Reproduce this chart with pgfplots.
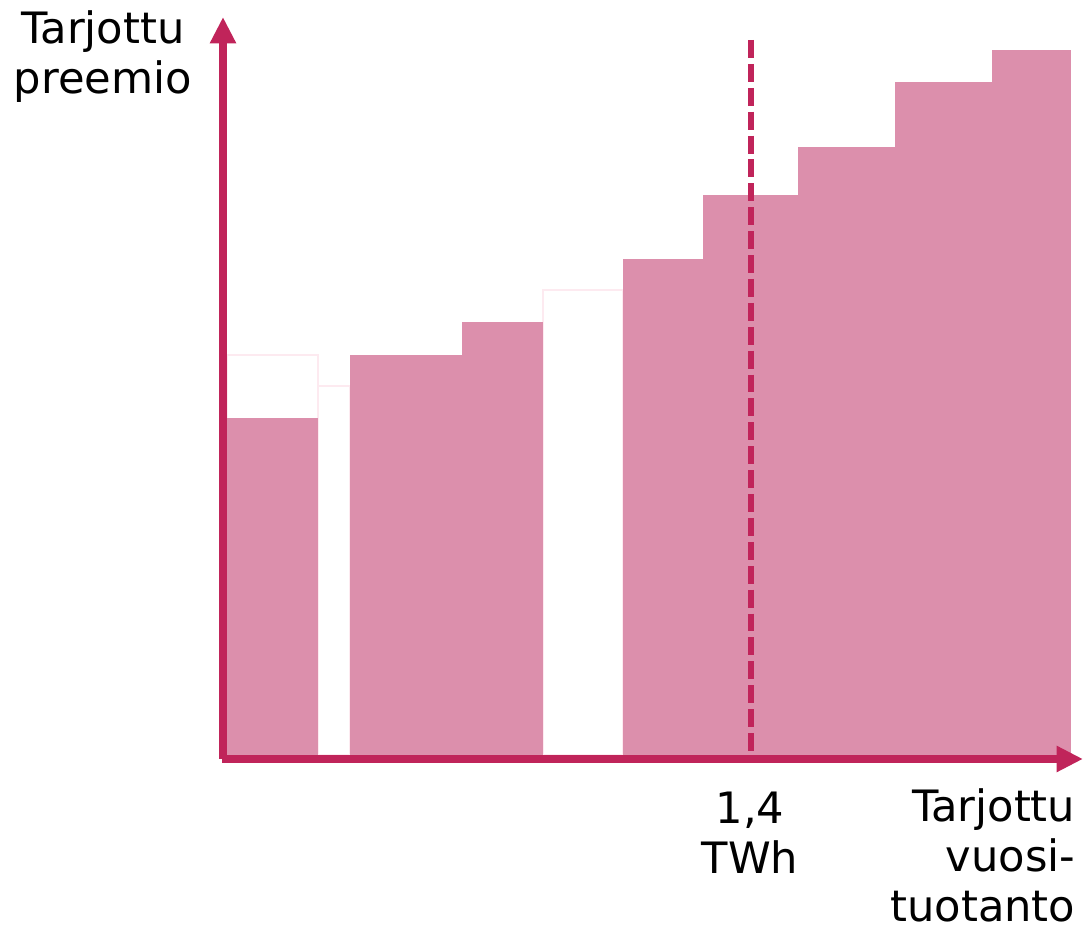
\documentclass[border=0pt]{standalone}
\usepackage{pgfplots}
\pgfplotsset{compat=1.18}
\usepackage{fontspec}
\setmainfont{DejaVu Sans}
\usetikzlibrary{arrows.meta}
\definecolor{barpink}{HTML}{DC8FAC}
\definecolor{axred}{HTML}{C0245A}
\definecolor{edgepink}{HTML}{FDEAF0}
\begin{document}
\begin{tikzpicture}
\begin{axis}[
  scale only axis, width=10.9cm, height=9.29cm,
  xmin=0, xmax=1090, ymin=0, ymax=929,
  axis lines=none, clip=false,
]
% white bars (faint edge)
\addplot[fill=white, draw=edgepink, line width=0.4pt] coordinates {(227,174) (227,574) (318,574) (318,174)} --cycle;
\addplot[fill=white, draw=edgepink, line width=0.4pt] coordinates {(318,174) (318,543) (350,543) (350,174)} --cycle;
\addplot[fill=white, draw=edgepink, line width=0.4pt] coordinates {(543,174) (543,639) (623,639) (623,174)} --cycle;
% pink bars
\addplot[fill=barpink, draw=none] coordinates {(227,174) (227,511) (318,511) (318,174)} --cycle;
\addplot[fill=barpink, draw=none] coordinates {(350,174) (350,574) (462,574) (462,174)} --cycle;
\addplot[fill=barpink, draw=none] coordinates {(462,174) (462,607) (543,607) (543,174)} --cycle;
\addplot[fill=barpink, draw=none] coordinates {(623,174) (623,670) (703,670) (703,174)} --cycle;
\addplot[fill=barpink, draw=none] coordinates {(703,174) (703,734) (798,734) (798,174)} --cycle;
\addplot[fill=barpink, draw=none] coordinates {(798,174) (798,782) (895,782) (895,174)} --cycle;
\addplot[fill=barpink, draw=none] coordinates {(895,174) (895,847) (992,847) (992,174)} --cycle;
\addplot[fill=barpink, draw=none] coordinates {(992,174) (992,879) (1071,879) (1071,174)} --cycle;
% dashed line at 1,4 TWh
\addplot[axred, line width=1.65pt, dash pattern=on 5.1pt off 1.7pt] coordinates {(751,889) (751,174)};
% axes
\draw[axred, line width=2.1pt, -{Triangle[width=7pt,length=7.5pt]}] (axis cs:222,170) -- (axis cs:1083,170);
\draw[axred, line width=2.1pt, -{Triangle[width=7pt,length=7.5pt]}] (axis cs:223,170) -- (axis cs:223,912);
% labels
\node[align=center, font=\fontsize{12.3}{14.2}\selectfont] at (axis cs:103,872) {Tarjottu\\preemio};
\node[align=center, font=\fontsize{12.3}{14.2}\selectfont] at (axis cs:750,96) {1,4\\TWh};
\node[align=right, anchor=east, inner sep=0pt, font=\fontsize{12.3}{14.2}\selectfont] at (axis cs:1076,74) {Tarjottu\\vuosi-\\tuotanto};
\end{axis}
\pgfresetboundingbox
\path (current axis.south west) rectangle (current axis.north east);
\end{tikzpicture}
\end{document}
